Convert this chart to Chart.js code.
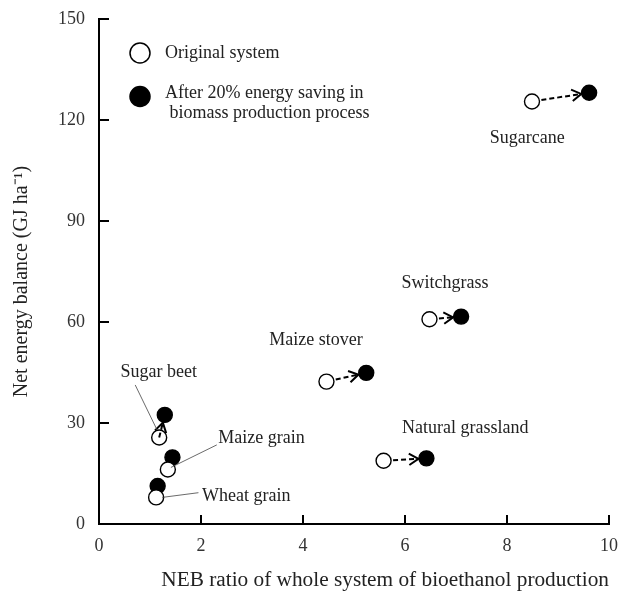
<!DOCTYPE html>
<html>
<head>
<meta charset="utf-8">
<script src="https://cdn.jsdelivr.net/npm/chart.js@4/dist/chart.umd.min.js"></script>
<style>
  body { margin: 0; background: #fff; }
</style>
</head>
<body>
<canvas id="chart" width="620" height="593"></canvas>
<script>
// NEB ratio (x) and net energy balance in GJ/ha (y)
var crops = ['Sugarcane', 'Switchgrass', 'Maize stover', 'Natural grassland', 'Sugar beet', 'Maize grain', 'Wheat grain'];
var origRatio = [8.49, 6.48, 4.46, 5.58, 1.18, 1.35, 1.12];
var origNeb = [125.5, 60.8, 42.3, 18.8, 25.7, 16.2, 7.9];
var savedRatio = [9.61, 7.10, 5.24, 6.42, 1.29, 1.44, 1.15];
var savedNeb = [128.1, 61.6, 44.9, 19.5, 32.4, 19.8, 11.3];

var xTicks = [0, 2, 4, 6, 8, 10];
var yTicks = [0, 30, 60, 90, 120, 150];

var legendLabels = ['Original system', ['After 20% energy saving in', ' biomass production process']];

// where each crop name sits (data units), plus optional leader line
var cropLabels = [
  { text: 'Sugarcane', x: 7.66, y: 114.6 },
  { text: 'Switchgrass', x: 5.93, y: 71.5 },
  { text: 'Maize stover', x: 3.34, y: 54.6 },
  { text: 'Natural grassland', x: 5.94, y: 28.5 },
  { text: 'Sugar beet', x: 0.42, y: 45.2, line: [0.71, 41.3, 1.14, 27.9] },
  { text: 'Maize grain', x: 2.34, y: 25.5, line: [2.31, 23.5, 1.41, 16.8] },
  { text: 'Wheat grain', x: 2.02, y: 8.1, line: [1.95, 9.3, 1.24, 7.9] }
];

var serif = '"Liberation Serif", "Times New Roman", serif';
var pointR = 7.5;

function toPoints(xs, ys) {
  return xs.map(function(x, i) {
    return { x: x, y: ys[i] };
  });
}

function drawArrow(ctx, x0, y0, x1, y1, r) {
  var dx = x1 - x0, dy = y1 - y0;
  var len = Math.sqrt(dx * dx + dy * dy);
  if (len <= 2 * r) return;
  var ux = dx / len, uy = dy / len;
  var start = len > 4 * r ? r + 2 : 0;
  var sx = x0 + ux * start, sy = y0 + uy * start;
  var ex = x1 - ux * (r + 0.5), ey = y1 - uy * (r + 0.5);
  ctx.save();
  ctx.strokeStyle = '#000';
  ctx.lineWidth = 2;
  ctx.setLineDash([5, 3]);
  ctx.beginPath();
  ctx.moveTo(sx, sy);
  ctx.lineTo(ex - ux * 2, ey - uy * 2);
  ctx.stroke();
  ctx.setLineDash([]);
  var a = Math.atan2(uy, ux), h = 11, spread = 0.55;
  ctx.beginPath();
  ctx.moveTo(ex - h * Math.cos(a - spread), ey - h * Math.sin(a - spread));
  ctx.lineTo(ex, ey);
  ctx.lineTo(ex - h * Math.cos(a + spread), ey - h * Math.sin(a + spread));
  ctx.stroke();
  ctx.restore();
}

var extras = {
  id: 'extras',
  afterDatasetsDraw: function(chart) {
    var ctx = chart.ctx;
    var xs = chart.scales.x, ys = chart.scales.y;
    var area = chart.chartArea;

    // inward tick marks
    ctx.save();
    ctx.strokeStyle = '#000';
    ctx.lineWidth = 2;
    ctx.beginPath();
    yTicks.forEach(function(v) {
      if (v === 0) return;
      var py = Math.round(ys.getPixelForValue(v));
      ctx.moveTo(area.left, py);
      ctx.lineTo(area.left + 10, py);
    });
    xTicks.forEach(function(v) {
      if (v === 0) return;
      var px = Math.round(xs.getPixelForValue(v));
      ctx.moveTo(px, area.bottom);
      ctx.lineTo(px, area.bottom - 9);
    });
    ctx.stroke();
    ctx.restore();

    // arrows from original to improved point
    crops.forEach(function(c, i) {
      drawArrow(ctx,
        xs.getPixelForValue(origRatio[i]), ys.getPixelForValue(origNeb[i]),
        xs.getPixelForValue(savedRatio[i]), ys.getPixelForValue(savedNeb[i]), pointR);
    });

    // crop names and leader lines
    ctx.save();
    ctx.font = '18px ' + serif;
    ctx.fillStyle = '#222';
    ctx.textBaseline = 'middle';
    ctx.textAlign = 'left';
    cropLabels.forEach(function(l) {
      ctx.fillText(l.text, xs.getPixelForValue(l.x), ys.getPixelForValue(l.y));
      if (l.line) {
        ctx.strokeStyle = '#444';
        ctx.lineWidth = 0.8;
        ctx.beginPath();
        ctx.moveTo(xs.getPixelForValue(l.line[0]), ys.getPixelForValue(l.line[1]));
        ctx.lineTo(xs.getPixelForValue(l.line[2]), ys.getPixelForValue(l.line[3]));
        ctx.stroke();
      }
    });
    ctx.restore();

    // legend
    ctx.save();
    var lx = area.left + 41, ly = area.top + 34;
    ctx.lineWidth = 1.5;
    ctx.strokeStyle = '#000';
    ctx.beginPath();
    ctx.arc(lx, ly, 10, 0, Math.PI * 2);
    ctx.fillStyle = '#fff';
    ctx.fill();
    ctx.stroke();
    ctx.beginPath();
    ctx.arc(lx, ly + 43.5, 10, 0, Math.PI * 2);
    ctx.fillStyle = '#000';
    ctx.fill();
    ctx.stroke();
    ctx.font = '18px ' + serif;
    ctx.fillStyle = '#222';
    ctx.textBaseline = 'middle';
    ctx.textAlign = 'left';
    ctx.fillText(legendLabels[0], lx + 25, ly);
    ctx.fillText(legendLabels[1][0], lx + 25, ly + 40);
    ctx.fillText(legendLabels[1][1], lx + 25, ly + 60);
    ctx.restore();
  }
};

var chart = new Chart('chart', {
  type: 'scatter',
  data: {
    datasets: [
      {
        label: 'Original system',
        data: toPoints(origRatio, origNeb),
        pointRadius: pointR,
        pointHoverRadius: pointR,
        backgroundColor: '#fff',
        borderColor: '#000',
        borderWidth: 1.4
      },
      {
        label: 'After 20% energy saving in biomass production process',
        data: toPoints(savedRatio, savedNeb),
        pointRadius: pointR,
        pointHoverRadius: pointR,
        backgroundColor: '#000',
        borderColor: '#000',
        borderWidth: 1.4
      }
    ]
  },
  options: {
    responsive: false,
    animation: false,
    layout: { padding: { top: 19, right: 11, bottom: 0, left: 0 } },
    plugins: {
      legend: { display: false },
      tooltip: { enabled: false }
    },
    scales: {
      x: {
        type: 'linear',
        min: 0,
        max: 10,
        afterFit: function(scale) {
          scale.height = 69;
          scale.paddingLeft = 0;
          scale.paddingRight = 0;
        },
        afterBuildTicks: function(scale) {
          scale.ticks = xTicks.map(function(v) { return { value: v }; });
        },
        grid: { display: false, drawTicks: false },
        border: { display: true, color: '#000', width: 2 },
        ticks: { padding: 11, color: '#333', font: { family: serif, size: 18 } },
        title: {
          display: true,
          text: 'NEB ratio of whole system of bioethanol production',
          align: 'end',
          color: '#222',
          padding: { top: 0, bottom: 0 },
          font: { family: serif, size: 21.3 }
        }
      },
      y: {
        type: 'linear',
        min: 0,
        max: 150,
        afterFit: function(scale) {
          scale.width = 99;
          scale.paddingTop = 0;
          scale.paddingBottom = 0;
        },
        afterBuildTicks: function(scale) {
          scale.ticks = yTicks.map(function(v) { return { value: v }; });
        },
        grid: { display: false, drawTicks: false },
        border: { display: true, color: '#000', width: 2 },
        ticks: { padding: 14, color: '#333', font: { family: serif, size: 18 } },
        title: {
          display: true,
          text: 'Net energy balance (GJ ha\u207B\u00B9)\u2003',
          color: '#222',
          padding: { top: 10, bottom: 0 },
          font: { family: serif, size: 20 }
        }
      }
    }
  },
  plugins: [extras]
});
</script>
</body>
</html>
